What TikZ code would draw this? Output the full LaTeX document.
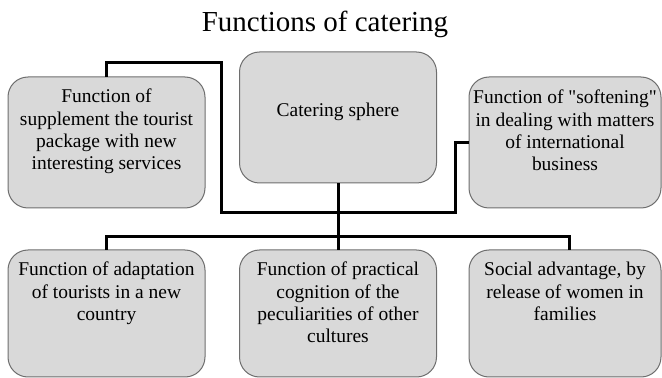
\documentclass[tikz,border=0pt]{standalone}
\usepackage{fontspec}
\setmainfont{Liberation Serif}
\newfontfamily\plainserif{Liberation Serif}
\definecolor{boxfill}{HTML}{D9D9D9}
\definecolor{boxline}{HTML}{6E6E6E}
\begin{document}
\begin{tikzpicture}[x=0.75pt,y=-0.75pt,
  fbox/.style={draw=boxline, fill=boxfill, line width=0.75pt, rounded corners=15pt,
    inner sep=0pt, outer sep=0pt},
  wide/.style={minimum width=147.75pt},
  narrow/.style={minimum width=144pt},
  tall/.style={minimum height=98.25pt},
  short/.style={minimum height=95.25pt},
  ftext/.style={anchor=base, inner sep=0pt, font=\plainserif\fontsize{14.6}{16.7}\selectfont},
  link/.style={line width=2.25pt, black}]
\useasboundingbox (0,0) rectangle (662,378);

\node[anchor=base, inner sep=0pt, font=\fontsize{21.75}{26}\selectfont] (title) at (325,31.5) {Functions of catering};

\node[fbox, wide, tall] (tl) at (106.5,142.5) {};
\node[fbox, wide, tall] (c) at (338,117.5) {};
\node[fbox, narrow, tall] (tr) at (565,142.5) {};
\node[fbox, wide, short] (bl) at (106.5,313.5) {};
\node[fbox, wide, short] (bm) at (338,313.5) {};
\node[fbox, narrow, short] (br) at (565,313.5) {};

\node[ftext] (tlt) at (106.5,103) {\parbox[t]{142pt}{\centering Function of\\ supplement the tourist\\ package with new\\ interesting services}};
\node[ftext] (ct) at (338,117) {\parbox[t]{142pt}{\centering Catering sphere}};
\node[ftext] (trt) at (565,104) {\parbox[t]{142pt}{\centering Function of "softening"\\ in dealing with matters\\ of international\\ business}};
\node[ftext] (blt) at (106.5,276) {\parbox[t]{142pt}{\centering Function of adaptation\\ of tourists in a new\\ country}};
\node[ftext] (bmt) at (338,276) {\parbox[t]{142pt}{\centering Function of practical\\ cognition of the\\ peculiarities of other\\ cultures}};
\node[ftext] (brt) at (565,276) {\parbox[t]{142pt}{\centering Social advantage, by\\ release of women in\\ families}};

\coordinate (k1) at (221,63);
\coordinate (k2) at (455.5,213);
\coordinate (bus) at (338,236.5);
\draw[link] (tl.north) |- (k1) |- (k2) |- (tr.west);
\draw[link] (c.south) -- (bm.north);
\draw[link] (bl.north) |- (bus) -| ([xshift=3pt]br.north);
\end{tikzpicture}
\end{document}
